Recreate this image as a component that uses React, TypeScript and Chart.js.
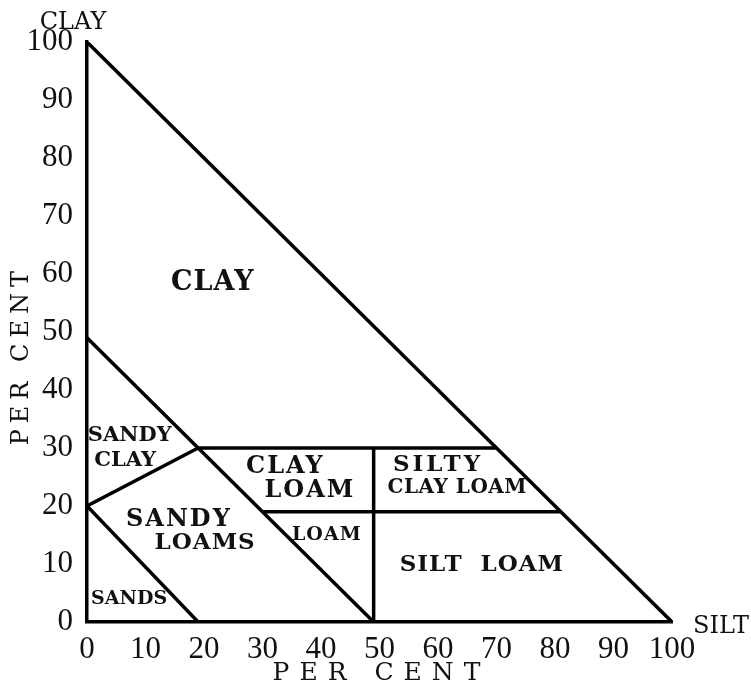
import React, { useEffect, useRef } from "react";
import { Chart, registerables } from "chart.js";

Chart.register(...registerables);

// ---- data (per cent clay on y, per cent silt on x) ----
const xTickValues = [0, 10, 20, 30, 40, 50, 60, 70, 80, 90, 100];
const yTickValues = [0, 10, 20, 30, 40, 50, 60, 70, 80, 90, 100];

const hypotenuse = [{ x: 0, y: 100 }, { x: 100, y: 0 }];
const loamDiagonal = [{ x: 0, y: 49 }, { x: 49, y: 0 }];
const sandsLine = [{ x: 0, y: 20 }, { x: 19, y: 0 }];
const sandyClayLine = [{ x: 0, y: 20 }, { x: 19, y: 30 }];
const clayLoamTop = [{ x: 19, y: 30 }, { x: 70, y: 30 }];
const loamTop = [{ x: 30, y: 19 }, { x: 81, y: 19 }];
const siltDivider = [{ x: 49, y: 0 }, { x: 49, y: 30 }];

const boundaries = [hypotenuse, loamDiagonal, sandsLine, sandyClayLine, clayLoamTop, loamTop, siltDivider];

// region names (text, x %, y %)
const regionTexts = ["CLAY", "SANDY", "CLAY", "CLAY", "LOAM", "SILTY", "CLAY LOAM", "SANDY", "LOAMS", "LOAM", "SILT  LOAM", "SANDS"];
const regionX = [21.5, 7.3, 6.5, 33.9, 38.1, 60.0, 63.3, 15.7, 20.2, 41.0, 67.5, 7.2];
const regionY = [58.5, 32.2, 27.9, 26.7, 22.7, 27.0, 23.2, 17.7, 13.7, 15.0, 9.8, 4.0];

const xTitle = "PER CENT";
const yTitle = "PER CENT";
const yCorner = "CLAY";
const xCorner = "SILT";

const regionSizes = [27, 21, 21, 24, 24, 23, 20, 24, 23, 19, 23, 19];
const regionSpacing = [1, 0, 0, 2, 2, 3, 0.5, 2, 1, 1, 1, 0];

export default function App() {
  const ref = useRef<HTMLCanvasElement | null>(null);

  useEffect(() => {
    document.body.style.margin = "0";
    const canvas = ref.current;
    if (!canvas) return;

    const labelPlugin = {
      id: "labels",
      afterDraw(chart: any) {
        const ctx = chart.ctx as CanvasRenderingContext2D;
        const xs = chart.scales.x;
        const ys = chart.scales.y;
        ctx.save();
        ctx.fillStyle = "#111";
        ctx.textAlign = "center";
        ctx.textBaseline = "middle";
        regionTexts.forEach((t, i) => {
          ctx.font = `600 ${regionSizes[i]}px 'DejaVu Serif', serif`;
          (ctx as any).letterSpacing = `${regionSpacing[i]}px`;
          ctx.fillText(t, xs.getPixelForValue(regionX[i]), ys.getPixelForValue(regionY[i]));
        });
        // corner labels
        ctx.font = "24px 'DejaVu Serif', serif";
        (ctx as any).letterSpacing = "0px";
        ctx.fillText(yCorner, xs.getPixelForValue(0) - 14, ys.getPixelForValue(100) - 19);
        ctx.textAlign = "left";
        ctx.fillText(xCorner, xs.getPixelForValue(100) + 21, ys.getPixelForValue(0) + 5);
        // axis titles
        ctx.textAlign = "center";
        ctx.font = "25px 'DejaVu Serif', serif";
        (ctx as any).letterSpacing = "10px";
        ctx.fillText(xTitle, xs.getPixelForValue(50) + 2, 673);
        ctx.save();
        ctx.translate(22, ys.getPixelForValue(46));
        ctx.rotate(-Math.PI / 2);
        ctx.font = "24px 'DejaVu Serif', serif";
        (ctx as any).letterSpacing = "6px";
        ctx.fillText(yTitle, 0, 0);
        ctx.restore();
        ctx.restore();
      },
    };

    const tickFont = { family: "'Liberation Serif', serif", size: 31 };

    const chart = new Chart(canvas, {
      type: "scatter",
      data: {
        datasets: boundaries.map((pts) => ({
          data: pts,
          showLine: true,
          borderColor: "#000",
          backgroundColor: "#000",
          borderWidth: 3.5,
          pointRadius: 0,
          pointHoverRadius: 0,
          fill: false,
        })),
      },
      options: {
        responsive: false,
        animation: false,
        events: [],
        layout: { padding: { top: 42, right: 79, left: 0, bottom: 0 } },
        plugins: { legend: { display: false }, tooltip: { enabled: false } },
        scales: {
          x: {
            type: "linear",
            min: 0,
            max: 100,
            afterBuildTicks: (s: any) => {
              s.ticks = xTickValues.map((v) => ({ value: v }));
            },
            afterFit: (s: any) => {
              s.height = 65;
            },
            grid: { display: false, drawTicks: false },
            border: { display: true, color: "#000", width: 3.5 },
            ticks: {
              color: "#111",
              font: tickFont,
              padding: 9,
              maxRotation: 0,
              autoSkip: false,
            },
          },
          y: {
            type: "linear",
            min: 0,
            max: 100,
            afterBuildTicks: (s: any) => {
              s.ticks = yTickValues.map((v) => ({ value: v }));
            },
            afterFit: (s: any) => {
              s.width = 87;
            },
            grid: { display: false, drawTicks: false },
            border: { display: true, color: "#000", width: 3.5 },
            ticks: {
              color: "#111",
              font: tickFont,
              padding: 14,
              autoSkip: false,
            },
          },
        },
      },
      plugins: [labelPlugin],
    } as any);

    return () => chart.destroy();
  }, []);

  return (
    <div style={{ width: 751, height: 687, background: "#fff" }}>
      <canvas ref={ref} width={751} height={687} style={{ display: "block" }} />
    </div>
  );
}
